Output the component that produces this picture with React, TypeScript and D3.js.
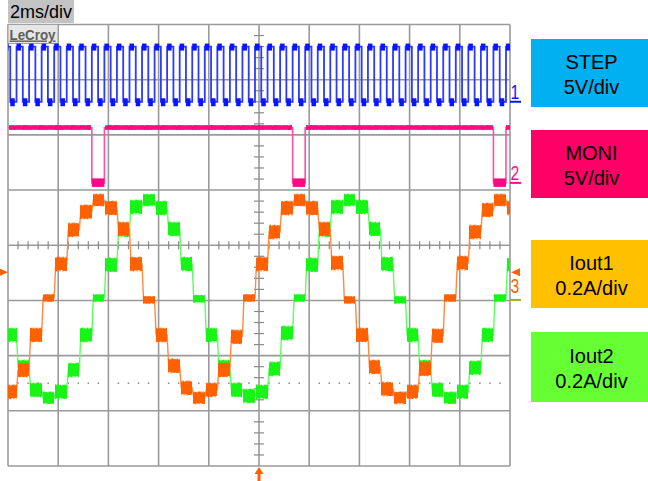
import React from 'react';
import * as d3 from 'd3';

// ---------------- data ----------------
const TIME_LABEL = '2ms/div';
const TIME_DOMAIN_MS = [0, 20];
const DIV_DOMAIN = [-4, 4];

// STEP clock: rising-edge times (ms); each edge also marks a micro-step
const STEP_EDGES_MS = [
  -0.16, 0.34, 0.84, 1.34, 1.84, 2.34, 2.84, 3.34, 3.84, 4.34,
  4.84, 5.34, 5.84, 6.34, 6.84, 7.34, 7.84, 8.34, 8.84, 9.34,
  9.84, 10.34, 10.84, 11.34, 11.84, 12.34, 12.84, 13.34, 13.84, 14.34,
  14.84, 15.34, 15.84, 16.34, 16.84, 17.34, 17.84, 18.34, 18.84, 19.34,
  19.84, 20.34,
];
const STEP_HIGH_WIDTH_MS = 0.25;
const STEP_LEVELS_V = [0, 5];

// MONI: low pulses (ms)
const MONI_LOW_STARTS_MS = [3.34, 11.34, 19.34];
const MONI_LOW_WIDTH_MS = 0.5;
const MONI_LEVELS_V = [0, 5];

// Iout1 / Iout2 current per micro-step (A), one value per STEP interval
const IOUT1_STEPS_A = [
  -0.333, -0.254, -0.127, 0.007, 0.13, 0.254, 0.319, 0.362, 0.333, 0.257,
  0.13, 0.0, -0.127, -0.239, -0.319, -0.355, -0.326, -0.254, -0.134, 0.007,
  0.13, 0.246, 0.333, 0.362, 0.333, 0.257, 0.134, 0.0, -0.127, -0.243,
  -0.323, -0.355, -0.333, -0.25, -0.13, 0.007, 0.134, 0.246, 0.326, 0.362,
  0.333,
];
const IOUT2_STEPS_A = [
  -0.127, -0.243, -0.326, -0.355, -0.333, -0.254, -0.127, 0.007, 0.127, 0.254,
  0.337, 0.362, 0.333, 0.257, 0.13, 0.004, -0.127, -0.243, -0.326, -0.348,
  -0.333, -0.25, -0.12, 0.007, 0.127, 0.254, 0.337, 0.362, 0.337, 0.257,
  0.13, 0.0, -0.127, -0.243, -0.326, -0.355, -0.333, -0.246, -0.127, 0.007,
  0.127,
];

const CHANNEL_NAMES = ['STEP', 'MONI', 'Iout1', 'Iout2'];
const CHANNEL_SCALE_LABELS = ['5V/div', '5V/div', '0.2A/div', '0.2A/div'];
const CHANNEL_UNITS_PER_DIV = [5, 5, 0.2, 0.2];
const CHANNEL_GROUND_DIV = [2.6, 1.13, -0.99, -0.99];
const CHANNEL_MARKERS = ['1', '2', '3'];

// ---------------- styles / layout ----------------
const W_ = 648;
const H_ = 481;
const FONT = '"Liberation Sans", Arial, Helvetica, sans-serif';
const LEGEND_FILLS = ['#00b0f0', '#ff0066', '#ffc000', '#66ff33'];
const LEGEND_BOXES = [
  { y: 39, h: 68 },
  { y: 130, h: 68 },
  { y: 240, h: 68 },
  { y: 332, h: 70 },
];
const C_BLUE = '#0a14ff';
const C_BLUE_THIN = '#2a3aff';
const C_PINK = '#ff0a84';
const C_PINK_THIN = '#ff4fa8';
const C_ORANGE = '#ff6000';
const C_ORANGE_THIN = '#ff8a40';
const C_GREEN = '#16f516';
const C_GREEN_THIN = '#5cff5c';
const GRID = '#9a9a9a';
// fixed texture used only to give the noise bands a ragged scope-like edge
const RAGGED = [1, 0.55, 0.85, 0.4, 0.95, 0.7, 0.3, 0.9, 0.6, 1, 0.45, 0.8, 0.65, 0.35, 0.9, 0.75];

const PLOT = { left: 8, right: 510, top: 24.5, bottom: 466 };

export default function App() {
  const x = d3.scaleLinear().domain(TIME_DOMAIN_MS).range([PLOT.left, PLOT.right]);
  const yDiv = d3.scaleLinear().domain(DIV_DOMAIN).range([PLOT.bottom, PLOT.top]);
  const yCh = (ch: number, v: number) => yDiv(CHANNEL_GROUND_DIV[ch] + v / CHANNEL_UNITS_PER_DIV[ch]);

  const majorX = d3.range(TIME_DOMAIN_MS[0], TIME_DOMAIN_MS[1] + 0.001, 2);
  const majorY = d3.range(DIV_DOMAIN[0], DIV_DOMAIN[1] + 0.001, 1);
  const minorX = d3.range(0, 20.001, 0.4).filter((t) => Math.abs(t / 2 - Math.round(t / 2)) > 0.01);
  const minorY = d3.range(-4, 4.001, 0.2).filter((d) => Math.abs(d - Math.round(d)) > 0.01);
  const cx = x(10);
  const cy = yDiv(0);

  // ragged band between x0..x1 around yc
  const band = (x0: number, x1: number, yc: number, halfUp: number, halfDn: number, seed: number) => {
    const xs = d3.range(Math.floor(x0), Math.ceil(x1) + 1);
    const top = xs.map((xx, i) => [xx, yc - halfUp * (0.72 + 0.28 * RAGGED[(i + seed) % RAGGED.length])] as [number, number]);
    const bot = xs.map((xx, i) => [xx, yc + halfDn * (0.72 + 0.28 * RAGGED[(i * 3 + seed + 5) % RAGGED.length])] as [number, number]);
    const line = d3.line().curve(d3.curveStep);
    const pts = top.concat(bot.reverse());
    return (line(pts) ?? '') + 'Z';
  };

  // ---- STEP (ch1) ----
  const sLow = yCh(0, STEP_LEVELS_V[0]);
  const sHigh = yCh(0, STEP_LEVELS_V[1]);
  const stepPath = d3.path();
  stepPath.moveTo(x(STEP_EDGES_MS[0]), sLow);
  STEP_EDGES_MS.forEach((e, i) => {
    const next = STEP_EDGES_MS[i + 1] ?? e + 0.5;
    stepPath.lineTo(x(e), sLow);
    stepPath.lineTo(x(e), sHigh);
    stepPath.lineTo(x(e + STEP_HIGH_WIDTH_MS), sHigh);
    stepPath.lineTo(x(e + STEP_HIGH_WIDTH_MS), sLow);
    stepPath.lineTo(x(next), sLow);
  });

  // ---- MONI (ch2) ----
  const mLow = yCh(1, MONI_LEVELS_V[0]);
  const mHigh = yCh(1, MONI_LEVELS_V[1]);
  const moniPath = d3.path();
  moniPath.moveTo(x(0), mHigh);
  MONI_LOW_STARTS_MS.forEach((s) => {
    moniPath.lineTo(x(s), mHigh);
    moniPath.lineTo(x(s), mLow);
    moniPath.lineTo(x(s + MONI_LOW_WIDTH_MS), mLow);
    moniPath.lineTo(x(s + MONI_LOW_WIDTH_MS), mHigh);
  });
  moniPath.lineTo(x(20.5), mHigh);
  const moniHighSegs: [number, number][] = [];
  let prev = 0;
  MONI_LOW_STARTS_MS.forEach((s) => {
    moniHighSegs.push([prev, s]);
    prev = s + MONI_LOW_WIDTH_MS;
  });
  moniHighSegs.push([prev, 20.5]);

  // ---- currents ----
  const stair = (ch: number, vals: number[], thin: string, fill: string, seed: number) => {
    const p = d3.path();
    const blobs: JSX.Element[] = [];
    vals.forEach((v, k) => {
      const e0 = x(STEP_EDGES_MS[k]);
      const e1 = x(STEP_EDGES_MS[k + 1]);
      const yv = yCh(ch, v);
      const yp = k === 0 ? yv : yCh(ch, vals[k - 1]);
      if (k === 0) p.moveTo(e0, yv);
      else p.lineTo(e0, yp);
      p.lineTo(e0 + 1.5, yv);
      p.lineTo(e1, yv);
      const a = Math.abs(v);
      const half = a < 0.03 ? 4 : a > 0.35 ? 6.5 : 7.5;
      blobs.push(
        <path key={k} d={band(e0 + 1.5, e1 - 0.5, yv, half, half, k * 7 + seed)} fill={fill} />
      );
    });
    return (
      <g>
        <path d={p.toString()} fill="none" stroke={thin} strokeWidth={1.4} />
        {blobs}
      </g>
    );
  };

  return (
    <svg width={W_} height={H_} style={{ position: 'absolute', left: 0, top: 0, background: '#fff' }}>
      <rect x={0} y={0} width={W_} height={H_} fill="#fff" />
      <defs>
        <clipPath id="plotclip">
          <rect x={PLOT.left} y={PLOT.top} width={PLOT.right - PLOT.left} height={PLOT.bottom - PLOT.top} />
        </clipPath>
      </defs>

      {/* grid */}
      <g stroke={GRID} strokeWidth={1.6}>
        {majorX.map((t) => (
          <line key={'vx' + t} x1={x(t)} x2={x(t)} y1={PLOT.top} y2={PLOT.bottom} />
        ))}
        {majorY.map((d) => (
          <line key={'hy' + d} x1={PLOT.left} x2={PLOT.right} y1={yDiv(d)} y2={yDiv(d)} />
        ))}
      </g>
      <g stroke="#8a8a8a" strokeWidth={1.2}>
        {minorY.map((d) => (
          <line key={'my' + d} x1={cx - 5} x2={cx + 5} y1={yDiv(d)} y2={yDiv(d)} />
        ))}
        {minorX.map((t) => (
          <line key={'mx' + t} x1={x(t)} x2={x(t)} y1={cy - 4} y2={cy + 4} />
        ))}
      </g>
      <g fill="#8a8a8a">
        {minorX.map((t) => (
          <rect key={'dot' + t} x={x(t) - 0.75} y={yDiv(-2.5) - 0.75} width={1.5} height={1.5} />
        ))}
      </g>

      {/* header */}
      <rect x={8} y={0} width={66} height={23} fill="#c3c3c3" />
      <text x={10} y={18} fontFamily={FONT} fontSize={18} fill="#000">
        {TIME_LABEL}
      </text>
      <rect x={8} y={24.5} width={50} height={19} fill="#e6e6e6" stroke="#a0a0a0" strokeWidth={1} />
      <text
        x={9.5}
        y={39.5}
        fontFamily={FONT}
        fontSize={14}
        fontWeight="bold"
        fill="#5e5e5e"
        textLength={46}
        lengthAdjust="spacingAndGlyphs"
        textDecoration="underline"
      >
        LeCroy
      </text>

      {/* traces */}
      <g clipPath="url(#plotclip)">
        <path d={stepPath.toString()} fill="none" stroke={C_BLUE_THIN} strokeWidth={1.8} />
        <g fill={C_BLUE}>
          {STEP_EDGES_MS.map((e, i) => (
            <g key={'sb' + i}>
              <rect x={x(e)} y={sHigh - 3} width={x(e + 0.18) - x(e)} height={7} />
              <rect x={x(e + STEP_HIGH_WIDTH_MS)} y={sLow - 3.5} width={x(e + 0.18) - x(e)} height={8} />
            </g>
          ))}
        </g>

        <path d={moniPath.toString()} fill="none" stroke={C_PINK_THIN} strokeWidth={1.6} />
        <g fill={C_PINK}>
          {moniHighSegs.map(([a, b], i) => (
            <path key={'mh' + i} d={band(x(a) + 1, x(b) - 1, mHigh, 2.8, 2.4, i * 5)} />
          ))}
          {MONI_LOW_STARTS_MS.map((s, i) => (
            <rect key={'ml' + i} x={x(s)} y={mLow - 4.5} width={x(s + MONI_LOW_WIDTH_MS) - x(s)} height={8.5} />
          ))}
        </g>

        {stair(3, IOUT2_STEPS_A, C_GREEN_THIN, C_GREEN, 3)}
        {stair(2, IOUT1_STEPS_A, C_ORANGE_THIN, C_ORANGE, 0)}
      </g>

      {/* channel markers */}
      <g fontFamily={FONT} fontSize={21}>
        <text x={510.5} y={yCh(0, 0) - 3} fill={C_BLUE} transform={`translate(${510.5 * 0.25},0) scale(0.75,1)`}>
          {CHANNEL_MARKERS[0]}
        </text>
        <text x={510.5} y={yCh(1, 0) - 3} fill={C_PINK} transform={`translate(${510.5 * 0.25},0) scale(0.75,1)`}>
          {CHANNEL_MARKERS[1]}
        </text>
        <text x={510.5} y={yCh(2, 0) - 7} fill={C_ORANGE} transform={`translate(${510.5 * 0.25},0) scale(0.75,1)`}>
          {CHANNEL_MARKERS[2]}
        </text>
      </g>
      <line x1={510} x2={521} y1={yCh(0, 0)} y2={yCh(0, 0)} stroke={C_BLUE} strokeWidth={2} />
      <line x1={510} x2={521} y1={yCh(1, 0)} y2={yCh(1, 0)} stroke={C_PINK} strokeWidth={2} />
      <line x1={510} x2={521} y1={yCh(2, 0)} y2={yCh(2, 0)} stroke="#99b020" strokeWidth={2} />
      <path d={`M511,${yDiv(-0.49)} L520,${yDiv(-0.49) - 4} L520,${yDiv(-0.49) + 4} Z`} fill={C_ORANGE} />
      <path d={`M0,${yDiv(-0.49) - 3.5} L8,${yDiv(-0.49)} L0,${yDiv(-0.49) + 3.5} Z`} fill={C_ORANGE} />
      <path
        d={`M${cx},467 L${cx + 4.5},474 L${cx + 1.5},474 L${cx + 1.5},481 L${cx - 1.5},481 L${cx - 1.5},474 L${cx - 4.5},474 Z`}
        fill={C_ORANGE}
      />

      {/* legend */}
      {CHANNEL_NAMES.map((n, i) => {
        const b = LEGEND_BOXES[i];
        const mid = b.y + b.h / 2;
        return (
          <g key={'lg' + i}>
            <rect x={531} y={b.y} width={W_ - 531} height={b.h} fill={LEGEND_FILLS[i]} />
            <text x={591.5} y={mid - 4} textAnchor="middle" fontFamily={FONT} fontSize={20} fill="#000">
              {n}
            </text>
            <text x={591.5} y={mid + 21} textAnchor="middle" fontFamily={FONT} fontSize={20} fill="#000">
              {CHANNEL_SCALE_LABELS[i]}
            </text>
          </g>
        );
      })}
    </svg>
  );
}
